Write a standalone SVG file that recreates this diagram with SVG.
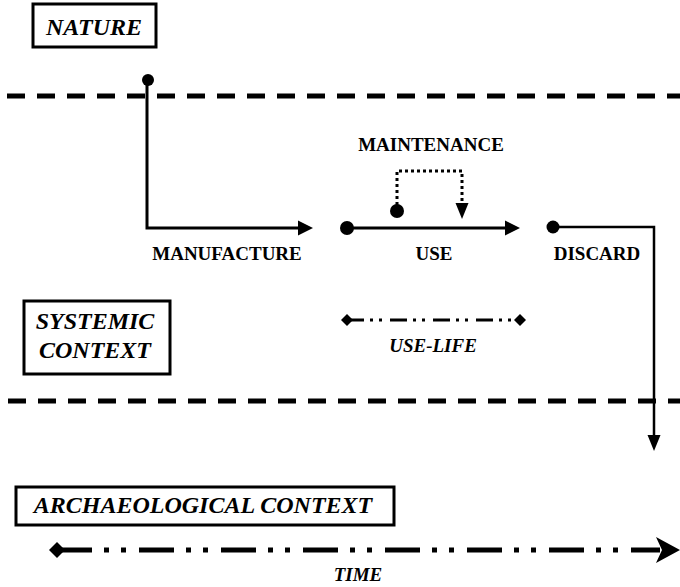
<svg xmlns="http://www.w3.org/2000/svg" width="680" height="587" viewBox="0 0 680 587">
<style>
.box{fill:#fff;stroke:#000;stroke-width:3}
.bt{font-family:"Liberation Serif","Times New Roman",serif;font-weight:bold;font-style:italic;font-size:24px;text-anchor:middle;fill:#000}
.lb{font-family:"Liberation Serif","Times New Roman",serif;font-weight:bold;font-size:19px;text-anchor:middle;fill:#000}
.li{font-family:"Liberation Serif","Times New Roman",serif;font-weight:bold;font-style:italic;font-size:19px;text-anchor:middle;fill:#000}
.bound{fill:none;stroke:#000;stroke-width:5;stroke-dasharray:18 12}
.arr{fill:none;stroke:#000;stroke-width:3}
</style>
<defs>
<marker id="tri" markerUnits="userSpaceOnUse" markerWidth="16" markerHeight="16" refX="3" refY="8" orient="auto" overflow="visible">
<path d="M0,0.5 L15,8 L0,15.5 z" fill="#000"/>
</marker>
<marker id="tri2" markerUnits="userSpaceOnUse" markerWidth="16" markerHeight="16" refX="3" refY="6.5" orient="auto" overflow="visible">
<path d="M0,0 L16,6.5 L0,13 z" fill="#000"/>
</marker>
<marker id="barb" markerUnits="userSpaceOnUse" markerWidth="24" markerHeight="28" refX="4" refY="13" orient="auto" overflow="visible">
<path d="M0,0 L24,13 L0,26 L6,13 z" fill="#000"/>
</marker>
<marker id="dia" markerUnits="userSpaceOnUse" markerWidth="18" markerHeight="18" refX="8" refY="8" orient="auto" overflow="visible">
<path d="M0,8 L8,0 L16,8 L8,16 z" fill="#000"/>
</marker>
<marker id="dias" markerUnits="userSpaceOnUse" markerWidth="14" markerHeight="14" refX="6" refY="6" orient="auto" overflow="visible">
<path d="M0,6 L6,0 L12,6 L6,12 z" fill="#000"/>
</marker>
</defs>

<g id="boundaries">
<line class="bound" x1="7" y1="96" x2="680" y2="96"/>
<line class="bound" x1="8" y1="401" x2="680" y2="401"/>
</g>

<g id="nature">
<rect class="box" x="33" y="4" width="123" height="43"/>
<text class="bt" x="94" y="35">NATURE</text>
</g>

<g id="systemic-context">
<rect class="box" x="24" y="301" width="146" height="73"/>
<text class="bt" x="95" y="329">SYSTEMIC</text>
<text class="bt" x="95" y="358">CONTEXT</text>
</g>

<g id="archaeological-context">
<rect class="box" x="16" y="487" width="378" height="38"/>
<text class="bt" x="203" y="513">ARCHAEOLOGICAL CONTEXT</text>
</g>

<g id="manufacture">
<text class="lb" x="227" y="260">MANUFACTURE</text>
</g>
<g id="use">
<text class="lb" x="434" y="260">USE</text>
</g>
<g id="discard">
<text class="lb" x="597" y="260">DISCARD</text>
</g>
<g id="maintenance">
<text class="lb" x="431" y="151">MAINTENANCE</text>
</g>
<g id="use-life">
<text class="li" x="433" y="352">USE-LIFE</text>
</g>
<g id="time">
<text class="li" x="358" y="581">TIME</text>
</g>

<g id="connectors">
<circle cx="148" cy="80" r="6"/>
<path class="arr" d="M147,80 V228 H301" marker-end="url(#tri)"/>
<circle cx="347" cy="228" r="7"/>
<path class="arr" d="M347,228 H508" marker-end="url(#tri)"/>
<circle cx="397" cy="211" r="7"/>
<path d="M397,211 V171 H462 V206" fill="none" stroke="#000" stroke-width="3" stroke-dasharray="3 3" marker-end="url(#tri2)"/>
<circle cx="553" cy="227" r="6.5"/>
<path d="M553,227 H654 V438" fill="none" stroke="#000" stroke-width="2.5" marker-end="url(#tri2)"/>
<path d="M347,320 H520" fill="none" stroke="#000" stroke-width="3" stroke-dasharray="17 6 3 6 3 8" marker-start="url(#dias)" marker-end="url(#dias)"/>
<path d="M57,550 H660" fill="none" stroke="#000" stroke-width="5" stroke-dasharray="35 12 5 12 5 13" marker-start="url(#dia)" marker-end="url(#barb)"/>
</g>
</svg>
